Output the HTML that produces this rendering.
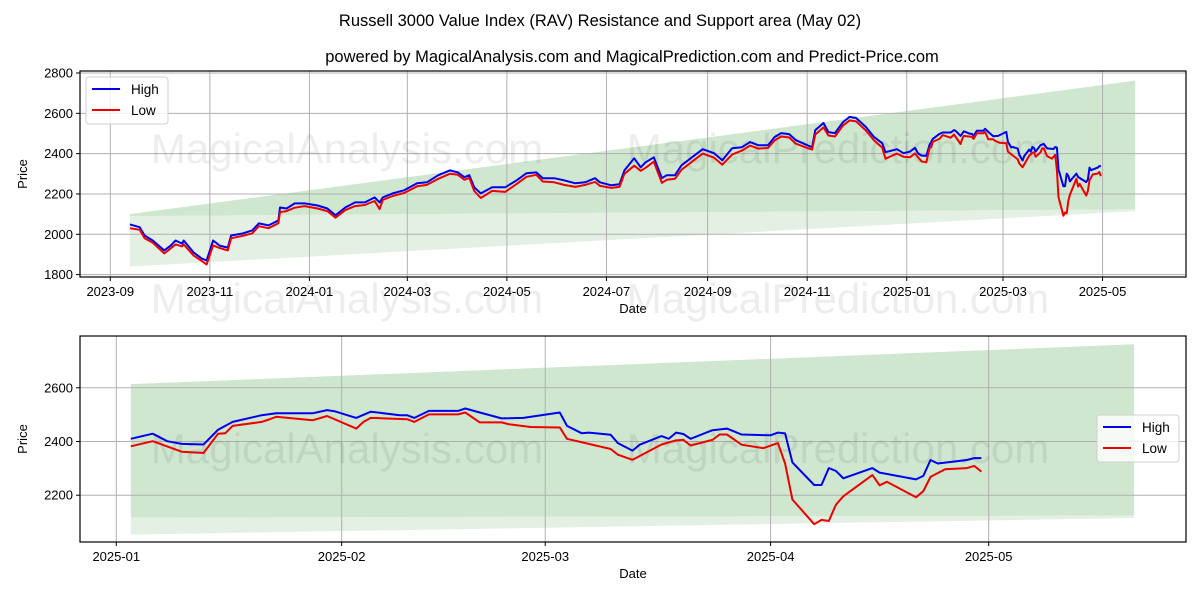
<!DOCTYPE html>
<html><head><meta charset="utf-8"><style>
body{margin:0;background:#fff;}
svg{font-family:"Liberation Sans","DejaVu Sans",sans-serif;display:block}
</style></head><body>
<svg id="fig" width="1200" height="600" viewBox="0 0 1200 600" xmlns="http://www.w3.org/2000/svg">
<text x="600" y="26" font-size="16.5" text-anchor="middle" fill="#000">Russell 3000 Value Index (RAV) Resistance and Support area (May 02)</text>
<text x="632" y="62" font-size="16.5" text-anchor="middle" fill="#000">powered by MagicalAnalysis.com and MagicalPrediction.com and Predict-Price.com</text>
<g id="top"></g>
<g id="bot"></g>
</svg>
<script>
const topDates=["2023-09-13","2023-09-19","2023-09-22","2023-09-27","2023-10-04","2023-10-08","2023-10-11","2023-10-15","2023-10-16","2023-10-22","2023-10-27","2023-10-30","2023-11-03","2023-11-07","2023-11-12","2023-11-14","2023-11-21","2023-11-27","2023-12-01","2023-12-07","2023-12-13","2023-12-14","2023-12-18","2023-12-23","2023-12-29","2024-01-06","2024-01-12","2024-01-17","2024-01-23","2024-01-29","2024-02-04","2024-02-10","2024-02-13","2024-02-15","2024-02-21","2024-02-28","2024-03-07","2024-03-13","2024-03-20","2024-03-27","2024-04-01","2024-04-05","2024-04-08","2024-04-11","2024-04-15","2024-04-22","2024-04-30","2024-05-07","2024-05-13","2024-05-19","2024-05-23","2024-05-30","2024-06-05","2024-06-12","2024-06-18","2024-06-24","2024-06-27","2024-07-04","2024-07-09","2024-07-12","2024-07-18","2024-07-22","2024-07-25","2024-07-30","2024-08-04","2024-08-07","2024-08-12","2024-08-16","2024-08-24","2024-08-29","2024-09-05","2024-09-10","2024-09-16","2024-09-22","2024-09-27","2024-10-02","2024-10-08","2024-10-12","2024-10-16","2024-10-21","2024-10-25","2024-11-01","2024-11-04","2024-11-06","2024-11-11","2024-11-14","2024-11-18","2024-11-23","2024-11-27","2024-12-01","2024-12-07","2024-12-12","2024-12-17","2024-12-19","2024-12-26","2024-12-30"];
const topHigh=[2049,2035,1994,1969,1920,1944,1969,1954,1969,1910,1880,1870,1969,1944,1934,1994,2004,2019,2054,2044,2069,2133,2128,2153,2153,2143,2128,2094,2133,2158,2158,2183,2158,2183,2203,2218,2253,2258,2293,2317,2307,2283,2293,2233,2203,2233,2233,2268,2303,2307,2278,2278,2268,2253,2258,2278,2258,2243,2248,2317,2377,2332,2357,2382,2278,2293,2293,2342,2392,2422,2402,2367,2427,2432,2457,2442,2442,2482,2502,2497,2467,2442,2432,2517,2552,2507,2502,2557,2582,2577,2532,2482,2452,2407,2422,2402];
const topLow=[2030,2022,1980,1958,1905,1930,1950,1940,1950,1895,1868,1850,1945,1932,1920,1980,1992,2005,2040,2030,2055,2110,2115,2132,2140,2128,2115,2082,2120,2140,2145,2165,2125,2170,2190,2205,2238,2245,2275,2300,2295,2270,2280,2215,2180,2215,2210,2250,2285,2295,2262,2258,2245,2235,2245,2260,2240,2230,2235,2300,2340,2315,2330,2360,2255,2270,2275,2320,2370,2400,2380,2345,2395,2415,2440,2425,2428,2465,2485,2480,2450,2428,2420,2495,2530,2490,2485,2540,2565,2560,2515,2465,2430,2375,2400,2385];
const highDates=["2025-01-03","2025-01-06","2025-01-08","2025-01-10","2025-01-13","2025-01-15","2025-01-17","2025-01-21","2025-01-23","2025-01-28","2025-01-30","2025-01-31","2025-02-03","2025-02-05","2025-02-09","2025-02-10","2025-02-11","2025-02-13","2025-02-17","2025-02-18","2025-02-20","2025-02-23","2025-02-26","2025-03-03","2025-03-04","2025-03-06","2025-03-07","2025-03-10","2025-03-11","2025-03-13","2025-03-14","2025-03-17","2025-03-18","2025-03-19","2025-03-20","2025-03-21","2025-03-24","2025-03-26","2025-03-28","2025-04-01","2025-04-02","2025-04-03","2025-04-04","2025-04-07","2025-04-08","2025-04-09","2025-04-10","2025-04-11","2025-04-15","2025-04-16","2025-04-21","2025-04-22","2025-04-23","2025-04-24","2025-04-28","2025-04-29","2025-04-30"];
const highVals=[2410,2429,2401,2391,2389,2444,2473,2498,2505,2505,2517,2513,2488,2511,2498,2498,2488,2514,2514,2523,2508,2486,2488,2508,2458,2431,2433,2425,2394,2366,2388,2420,2410,2433,2428,2410,2442,2448,2426,2423,2433,2430,2322,2238,2238,2301,2290,2263,2301,2284,2259,2272,2331,2318,2331,2338,2338];
const lowDates=["2025-01-03","2025-01-06","2025-01-10","2025-01-13","2025-01-15","2025-01-16","2025-01-17","2025-01-21","2025-01-22","2025-01-23","2025-01-28","2025-01-30","2025-02-03","2025-02-04","2025-02-05","2025-02-10","2025-02-11","2025-02-13","2025-02-17","2025-02-18","2025-02-20","2025-02-23","2025-02-24","2025-02-27","2025-03-03","2025-03-04","2025-03-10","2025-03-11","2025-03-13","2025-03-17","2025-03-19","2025-03-20","2025-03-21","2025-03-24","2025-03-25","2025-03-26","2025-03-28","2025-03-31","2025-04-02","2025-04-03","2025-04-04","2025-04-07","2025-04-08","2025-04-09","2025-04-10","2025-04-11","2025-04-15","2025-04-16","2025-04-17","2025-04-21","2025-04-22","2025-04-23","2025-04-25","2025-04-28","2025-04-29","2025-04-30"];
const lowVals=[2382,2401,2362,2357,2429,2431,2458,2473,2482,2492,2479,2495,2448,2473,2488,2483,2473,2501,2501,2508,2471,2471,2464,2454,2452,2410,2372,2351,2332,2389,2404,2406,2385,2406,2426,2426,2388,2375,2394,2318,2184,2092,2108,2104,2165,2196,2275,2237,2250,2192,2215,2268,2297,2301,2309,2288];
const bandDates=["2023-09-13","2025-05-21"];
const bandUpper=[2100,2762];
const bandMid=[2090,2124];
const bandLower=[1840,2115];
const topYTicks=[1800,2000,2200,2400,2600,2800];
const topXTicks=["2023-09","2023-11","2024-01","2024-03","2024-05","2024-07","2024-09","2024-11","2025-01","2025-03","2025-05"];
const botYTicks=[2200,2400,2600];
const botXTicks=["2025-01","2025-02","2025-03","2025-04","2025-05"];

const NS="http://www.w3.org/2000/svg";
const DAY=86400000;
function t(s){return Date.parse(s.length===7?s+"-01":s);}
function mk(parent,tag,attrs,txt){const e=document.createElementNS(NS,tag);for(const k in attrs)e.setAttribute(k,attrs[k]);if(txt!==undefined)e.textContent=txt;parent.appendChild(e);return e;}

function drawChart(g,cfg){
  const {L,R,T,B,xMin,xMax,yMin,yMax}=cfg;
  const X=d=>L+(t(d)-xMin)/(xMax-xMin)*(R-L);
  const Y=v=>B-(v-yMin)/(yMax-yMin)*(B-T);
  // bands (optionally start at a later date)
  const ta=t(bandDates[0]),tb=t(bandDates[1]);
  const sd=cfg.bandStart||bandDates[0];
  const f=(t(sd)-ta)/(tb-ta);
  const at=arr=>arr[0]+(arr[1]-arr[0])*f;
  const x0=X(sd),x1=X(bandDates[1]);
  const dark=mk(g,"polygon",{points:`${x0},${Y(at(bandUpper))} ${x1},${Y(bandUpper[1])} ${x1},${Y(bandMid[1])} ${x0},${Y(at(bandMid))}`,fill:"#cfe6cf"});
  
  
  const light=mk(g,"polygon",{points:`${x0},${Y(at(bandMid))} ${x1},${Y(bandMid[1])} ${x1},${Y(bandLower[1])} ${x0},${Y(at(bandLower))}`,fill:"#e3f0e3"});
  
  
  cfg.yTicks.forEach(v=>{
    const y=Y(v);
    mk(g,"line",{x1:L,x2:R,y1:y,y2:y,stroke:"#b0b0b0","stroke-width":1});
    mk(g,"line",{x1:L-4,x2:L,y1:y,y2:y,stroke:"#000"});
    const lb=mk(g,"text",{x:L-7,y:y+4.5,"font-size":13,"text-anchor":"end"},String(v));
    
    
  });
  cfg.xTicks.forEach(d=>{
    const x=X(d);
    mk(g,"line",{x1:x,x2:x,y1:T,y2:B,stroke:"#b0b0b0","stroke-width":1});
    mk(g,"line",{x1:x,x2:x,y1:B,y2:B+4,stroke:"#000"});
    const lb=mk(g,"text",{x:x,y:B+19,"font-size":13,"text-anchor":"middle"},d);
    
    
  });
  cfg.marks.forEach(m=>{
    const w=mk(g,"text",{x:m[0],y:m[1],"font-size":42,"text-anchor":"middle",fill:"rgba(0,0,0,0.07)"},m[2]);
    
    
  });
  const lineOf=(ds,vs,color,name)=>{
    const pts=[];ds.forEach((d,i)=>{if(t(d)>=xMin&&t(d)<=xMax)pts.push(X(d).toFixed(1)+","+Y(vs[i]).toFixed(1));});
    const p=mk(g,"polyline",{points:pts.join(" "),fill:"none",stroke:color,"stroke-width":2,"stroke-linejoin":"round"});
    
    
  };
  lineOf(cfg.hd,cfg.hv,"#0000ee","high-line");
  lineOf(cfg.ld,cfg.lv,"#ee0000","low-line");
  mk(g,"rect",{x:L,y:T,width:R-L,height:B-T,fill:"none",stroke:"#000","stroke-width":1.2});
  const xl=mk(g,"text",{x:(L+R)/2,y:B+36,"font-size":13,"text-anchor":"middle"},"Date");
  
  
  const yl=mk(g,"text",{x:0,y:0,"font-size":13,"text-anchor":"middle",transform:`translate(27,${(T+B)/2}) rotate(-90)`},"Price");
  
  
  const [lx,ly]=cfg.legend;
  const lg=mk(g,"g",{});
  
  
  mk(lg,"rect",{x:lx,y:ly,width:82,height:47,rx:3,fill:"rgba(255,255,255,0.8)",stroke:"#d0d0d0"});
  mk(lg,"line",{x1:lx+6,x2:lx+34,y1:ly+12,y2:ly+12,stroke:"#0000ee","stroke-width":2});
  mk(lg,"line",{x1:lx+6,x2:lx+34,y1:ly+33,y2:ly+33,stroke:"#ee0000","stroke-width":2});
  const e1=mk(lg,"text",{x:lx+45,y:ly+17,"font-size":13.5},"High");
  
  
  const e2=mk(lg,"text",{x:lx+45,y:ly+38,"font-size":13.5},"Low");
  
  
}

const allHD=topDates.concat(highDates), allHV=topHigh.concat(highVals);
const allLD=topDates.concat(lowDates), allLV=topLow.concat(lowVals);
const base1=t("2023-09-01");
drawChart(document.getElementById("top"),{L:80,R:1186,T:71,B:277,
  xMin:base1-(110.3-80)/1.632*DAY,xMax:base1+(1186-110.3)/1.632*DAY,
  yMin:1800-(277-274.6)/0.2015,yMax:2800+(73-71)/0.2015,
  yTicks:topYTicks,xTicks:topXTicks,hd:allHD,hv:allHV,ld:allLD,lv:allLV,legend:[86,77],
  marks:[[347,163,"MagicalAnalysis.com"],[838,163,"MagicalPrediction.com"],[347,313,"MagicalAnalysis.com"],[838,313,"MagicalPrediction.com"]]});
const base2=t("2025-01-01");
drawChart(document.getElementById("bot"),{L:80,R:1186,T:336,B:542,
  xMin:base2-(116.3-80)/7.27*DAY,xMax:base2+(1186-116.3)/7.27*DAY,
  yMin:2400-(542-441.5)/0.2685,yMax:2400+(441.5-336)/0.2685,bandStart:"2025-01-03",
  yTicks:botYTicks,xTicks:botXTicks,hd:highDates,hv:highVals,ld:lowDates,lv:lowVals,legend:[1097,415],
  marks:[[347,463,"MagicalAnalysis.com"],[838,463,"MagicalPrediction.com"]]});
</script>
</body></html>
